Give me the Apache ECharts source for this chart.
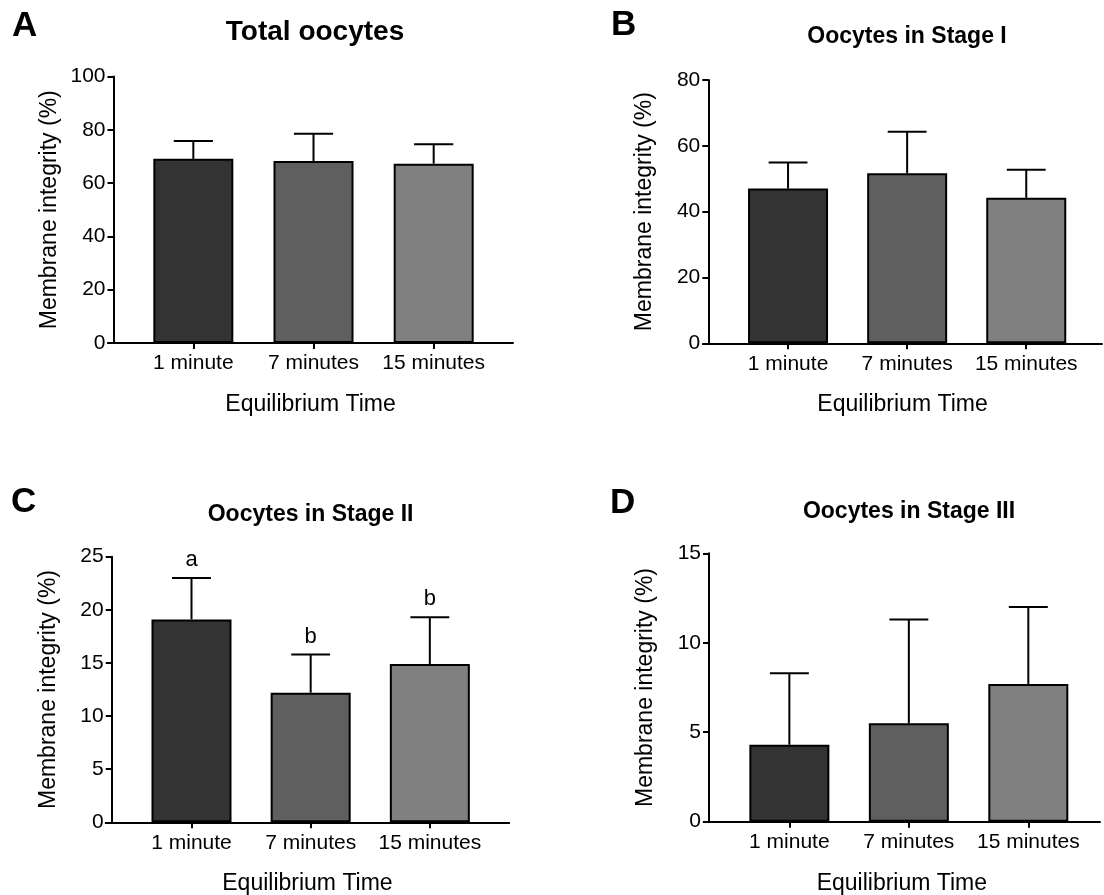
<!DOCTYPE html>
<html>
<head>
<meta charset="utf-8">
<script src="https://cdn.jsdelivr.net/npm/echarts@6/dist/echarts.min.js"></script>
<style>html,body{margin:0;padding:0;background:#fff;}#c{width:1104px;height:895px;}</style>
</head>
<body>
<div id="c"></div>
<script>
// ---- data ----
const categories = ['1 minute', '7 minutes', '15 minutes'];
const totalMean = [69.1, 68.3, 67.3];
const totalErr = [6.7, 10.2, 7.3];
const stage1Mean = [47.0, 51.7, 44.2];
const stage1Err = [7.9, 12.6, 8.5];
const stage2Mean = [19.1, 12.2, 14.9];
const stage2Err = [3.9, 3.6, 4.4];
const stage2Letters = ['a', 'b', 'b'];
const stage3Mean = [4.3, 5.5, 7.7];
const stage3Err = [4.0, 5.8, 4.3];
const titles = ['Total oocytes', 'Oocytes in Stage I', 'Oocytes in Stage II', 'Oocytes in Stage III'];
const panelLetters = ['A', 'B', 'C', 'D'];
const yMax = [100, 80, 25, 15];
const yInterval = [20, 20, 5, 5];
const xName = 'Equilibrium Time';
const yName = 'Membrane integrity (%)';
const barColors = ['#333333', '#5f5f5f', '#808080'];

const FONT = '"Liberation Sans", Arial, Helvetica, sans-serif';

const panels = [
  { mean: totalMean, err: totalErr, letters: null,
    grid: { left: 108, top: 76.5, width: 405, height: 266.5 }, yOff: -5.5, xmin: -0.71, xmax: 2.66,
    title: { x: 315, y: 32, size: 28 }, letter: { x: 12, y: 26 } },
  { mean: stage1Mean, err: stage1Err, letters: null,
    grid: { left: 703, top: 80, width: 399, height: 263.3 }, yOff: -5.3, xmin: -0.714, xmax: 2.636,
    title: { x: 907, y: 37, size: 23 }, letter: { x: 611, y: 25 } },
  { mean: stage2Mean, err: stage2Err, letters: stage2Letters,
    grid: { left: 105.7, top: 556.7, width: 403.5, height: 265.6 }, yOff: -6, xmin: -0.72, xmax: 2.666,
    title: { x: 310.6, y: 515, size: 23 }, letter: { x: 11, y: 502 } },
  { mean: stage3Mean, err: stage3Err, letters: null,
    grid: { left: 703.7, top: 553.3, width: 396.3, height: 268.4 }, yOff: -5.3, xmin: -0.717, xmax: 2.6,
    title: { x: 909, y: 512, size: 23 }, letter: { x: 610, y: 503 } }
];

const grids = [], xAxes = [], yAxes = [], series = [], graphics = [];

panels.forEach((p, i) => {
  grids.push(Object.assign({ containLabel: false, outerBoundsMode: 'none' }, p.grid));
  xAxes.push({
    gridIndex: i, type: 'value', min: p.xmin, max: p.xmax,
    name: xName, nameLocation: 'middle', nameGap: 50,
    nameTextStyle: { fontSize: 23, color: '#000', fontFamily: FONT },
    axisLine: { show: true, onZero: false, lineStyle: { color: '#000', width: 2 } },
    axisTick: { show: true, customValues: [0, 1, 2], length: 6, lineStyle: { color: '#000', width: 2 } },
    axisLabel: { show: true, customValues: [0, 1, 2], margin: 10, fontSize: 21, color: '#000', fontFamily: FONT,
      formatter: v => categories[Math.round(v)] },
    splitLine: { show: false }
  });
  yAxes.push({
    gridIndex: i, type: 'value', min: 0, max: yMax[i], interval: yInterval[i], offset: p.yOff,
    name: yName, nameLocation: 'middle', nameGap: 52,
    nameTextStyle: { fontSize: 23, color: '#000', fontFamily: FONT },
    axisLine: { show: true, onZero: false, lineStyle: { color: '#000', width: 2 } },
    axisTick: { show: true, length: 6, lineStyle: { color: '#000', width: 2 } },
    axisLabel: { margin: 8, fontSize: 21, color: '#000', fontFamily: FONT },
    splitLine: { show: false }
  });
  series.push({
    type: 'bar', xAxisIndex: i, yAxisIndex: i, barWidth: 80,
    data: p.mean.map((v, k) => ({ value: [k, v], itemStyle: { color: barColors[k] } })),
    itemStyle: { borderColor: '#000', borderWidth: 2 },
    z: 2
  });
  const letters = p.letters;
  series.push({
    type: 'custom', xAxisIndex: i, yAxisIndex: i, z: 3,
    encode: { x: 0, y: [1, 2] },
    data: p.mean.map((v, k) => [k, v, v + p.err[k]]),
    renderItem: (params, api) => {
      const x = api.value(0), m = api.value(1), u = api.value(2);
      const p0 = api.coord([x, m]);
      const p1 = api.coord([x, u]);
      const half = api.size([1, 0])[0] * 0.163;
      const st = { stroke: '#000', lineWidth: 2 };
      const children = [
        { type: 'line', shape: { x1: p0[0], y1: p0[1], x2: p1[0], y2: p1[1] }, style: st },
        { type: 'line', shape: { x1: p1[0] - half, y1: p1[1], x2: p1[0] + half, y2: p1[1] }, style: st }
      ];
      if (letters) {
        children.push({ type: 'text', x: p1[0], y: p1[1] - 7,
          style: { text: letters[params.dataIndex], fontSize: 22, fontFamily: FONT, fill: '#000',
                   align: 'center', verticalAlign: 'bottom' } });
      }
      return { type: 'group', children };
    }
  });
  graphics.push({ type: 'text', x: p.title.x, y: p.title.y,
    style: { text: titles[i], font: 'bold ' + p.title.size + 'px ' + FONT, fill: '#000', align: 'center', verticalAlign: 'middle' } });
  graphics.push({ type: 'text', x: p.letter.x, y: p.letter.y,
    style: { text: panelLetters[i], font: 'bold 35px ' + FONT, fill: '#000', align: 'left', verticalAlign: 'middle' } });
});

const chart = echarts.init(document.getElementById('c'), null, { renderer: 'canvas' });
chart.setOption({
  backgroundColor: '#ffffff',
  animation: false,
  textStyle: { fontFamily: FONT },
  grid: grids, xAxis: xAxes, yAxis: yAxes, series: series, graphic: graphics
});
</script>
</body>
</html>
